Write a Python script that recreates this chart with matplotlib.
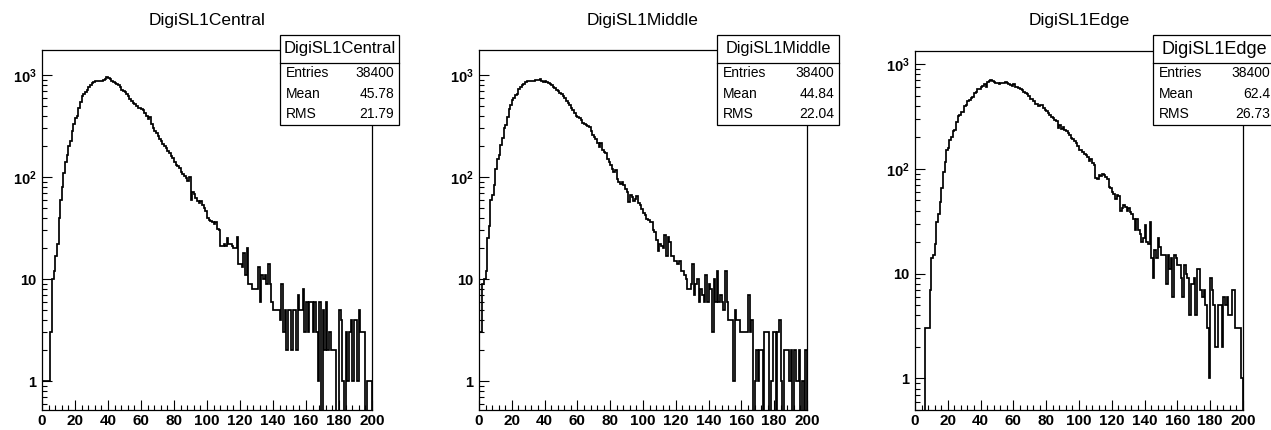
import numpy as np
import matplotlib
matplotlib.use("Agg")
import matplotlib.pyplot as plt
from matplotlib.patches import Rectangle
from matplotlib.lines import Line2D

plt.rcParams['font.family'] = ['Liberation Sans', 'DejaVu Sans']
plt.rcParams['mathtext.fontset'] = 'custom'
plt.rcParams['mathtext.rm'] = 'Liberation Sans:bold'
plt.rcParams['mathtext.it'] = 'Liberation Sans:bold'
plt.rcParams['mathtext.bf'] = 'Liberation Sans:bold'

# ---------------- data ----------------
bin_edges = list(range(0, 201))

names = ["DigiSL1Central", "DigiSL1Middle", "DigiSL1Edge"]
entries = ["38400", "38400", "38400"]
means = ["45.78", "44.84", "62.4"]
rms_values = ["21.79", "22.04", "26.73"]

counts_central = [
    1, 1, 1, 1, 1, 3, 10, 12, 17, 22,
    40, 60, 80, 110, 140, 165, 200, 225, 280, 330,
    380, 400, 470, 540, 620, 650, 680, 720, 770, 800,
    830, 860, 870, 880, 875, 880, 870, 885, 920, 950,
    940, 910, 880, 860, 840, 820, 800, 760, 720, 700,
    680, 650, 620, 580, 550, 530, 520, 500, 480, 470,
    460, 450, 420, 400, 370, 390, 330, 300, 285, 270,
    250, 235, 225, 210, 200, 193, 180, 170, 160, 154,
    140, 132, 128, 123, 112, 108, 102, 97, 92, 100,
    60, 72, 68, 62, 58, 56, 58, 53, 50, 46,
    40, 38, 37, 36, 35, 36, 31, 30, 21, 21,
    22, 21, 25, 22, 22, 21, 20, 20, 26, 14,
    14, 13, 18, 11, 20, 9, 9, 8, 8, 8,
    8, 13, 6, 11, 10, 11, 9, 14, 9, 6,
    5, 5, 5, 5, 4, 9, 3, 5, 2, 5,
    5, 2, 5, 5, 2, 7, 5, 5, 8, 3,
    6, 3, 6, 6, 3, 6, 3, 1, 6, 0,
    5, 2, 6, 2, 3, 2, 2, 2, 0, 0,
    5, 4, 1, 0, 3, 1, 3, 4, 1, 4,
    4, 1, 5, 3, 3, 3, 0, 1, 1, 1,
]

counts_middle = [
    3, 3, 9, 10, 12, 25, 33, 60, 66, 83,
    121, 150, 163, 205, 240, 300, 323, 390, 468, 504,
    565, 590, 634, 655, 735, 765, 790, 825, 845, 870,
    870, 875, 880, 870, 885, 891, 900, 905, 880, 863,
    870, 850, 840, 820, 800, 770, 740, 710, 690, 670,
    655, 620, 590, 560, 535, 510, 480, 450, 420, 400,
    390, 375, 362, 340, 330, 323, 315, 310, 280, 260,
    245, 238, 215, 196, 215, 183, 175, 170, 150, 140,
    130, 121, 111, 118, 96, 90, 86, 90, 83, 76,
    71, 57, 66, 63, 58, 61, 65, 55, 53, 49,
    44, 42, 39, 38, 36, 36, 30, 29, 24, 19,
    22, 21, 20, 27, 17, 26, 23, 17, 17, 15,
    15, 14, 15, 12, 12, 11, 10, 8, 8, 9,
    14, 7, 9, 10, 6, 8, 7, 6, 11, 6,
    9, 8, 3, 10, 6, 12, 6, 7, 6, 5,
    12, 6, 4, 4, 4, 1, 5, 4, 4, 3,
    3, 3, 3, 3, 7, 3, 4, 0, 1, 2,
    1, 2, 2, 0, 3, 3, 3, 0, 1, 3,
    3, 0, 3, 4, 1, 0, 2, 2, 2, 1,
    2, 0, 2, 1, 1, 2, 0, 1, 0, 2,
]

counts_edge = [
    0, 0, 0, 0, 0, 0, 3, 3, 3, 7,
    14, 15, 19, 31, 37, 48, 65, 94, 116, 150,
    160, 190, 200, 230, 235, 280, 320, 330, 350, 352,
    400, 410, 445, 455, 480, 490, 530, 545, 575, 585,
    610, 620, 640, 600, 670, 685, 700, 695, 670, 665,
    655, 650, 660, 655, 665, 668, 660, 650, 630, 625,
    640, 610, 600, 590, 580, 570, 545, 535, 520, 500,
    465, 460, 440, 420, 418, 395, 410, 405, 380, 365,
    360, 340, 330, 312, 305, 290, 285, 245, 260, 240,
    250, 235, 230, 220, 210, 198, 192, 185, 178, 165,
    152, 150, 146, 140, 135, 130, 120, 125, 113, 110,
    82, 80, 87, 85, 90, 88, 84, 80, 67, 65,
    60, 58, 52, 56, 55, 40, 42, 45, 43, 40,
    42, 39, 37, 33, 26, 33, 26, 24, 20, 22,
    29, 20, 19, 31, 14, 9, 17, 14, 22, 18,
    15, 15, 15, 8, 15, 11, 14, 6, 15, 14,
    12, 12, 9, 6, 12, 10, 9, 4, 8, 8,
    9, 4, 11, 11, 7, 6, 7, 5, 3, 1,
    9, 7, 5, 2, 2, 5, 5, 2, 6, 5,
    6, 4, 4, 7, 7, 3, 3, 3, 3, 1,
]

all_counts = [counts_central, counts_middle, counts_edge]

# ---------------- layout (pixels) ----------------
W, H = 1271, 430
fig = plt.figure(figsize=(W / 100, H / 100), dpi=100)

# left, top, right, bottom, ymin, ymax, box_left, box_right, box title size
panels = [
    (42, 50, 372, 410, 0.52, 1758, 280, 399, 12.0),
    (479, 50, 807, 410, 0.52, 1758, 717, 839, 11.7),
    (915, 51, 1243, 410, 0.50, 1334, 1153, 1275, 13.0),
]


def fx(x):
    return x / W


def fy(y):
    return 1 - y / H


for i, (l, t, r, b, ymin, ymax, bl, br, bts) in enumerate(panels):
    ax = fig.add_axes([fx(l), fy(b), (r - l) / W, (b - t) / H])
    ax.set_yscale('log')
    vals = np.asarray(all_counts[i], dtype=float)
    draw = np.where(vals > 0, vals, 1e-3)
    ax.stairs(draw, bin_edges, baseline=1e-3, color='black', lw=1.25)
    ax.set_xlim(0, 200)
    ax.set_ylim(ymin, ymax)

    ax.set_xticks(list(range(0, 201, 20)),
                  [str(v) for v in range(0, 201, 20)],
                  fontweight='bold', fontsize=11)
    ax.set_xticks([v for v in range(0, 201, 4) if v % 20], minor=True)
    ax.set_yticks([1, 10, 100, 1000],
                  ['1', '10', r'$\mathregular{10^{2}}$', r'$\mathregular{10^{3}}$'],
                  fontweight='bold', fontsize=10.5)
    minors = [k * 10 ** d for d in range(-1, 4) for k in range(2, 10)
              if ymin <= k * 10 ** d <= ymax]
    ax.set_yticks(minors, minor=True)
    ax.yaxis.set_minor_formatter(plt.NullFormatter())
    ax.tick_params(which='both', direction='in', top=False, right=False,
                   color='black')
    ax.tick_params(which='major', length=7, width=0.8)
    ax.tick_params(which='minor', length=3.5, width=0.8)
    ax.tick_params(axis='x', pad=3)
    ax.tick_params(axis='y', pad=4)
    for s in ax.spines.values():
        s.set_linewidth(0.9)
        s.set_color('black')

    # title
    fig.text(fx((l + r) / 2), fy(21), names[i], ha='center', va='center',
             fontsize=12.5)

    # stats box
    box_top, box_bot, sep = 35, 125, 63
    fig.add_artist(Rectangle((fx(bl), fy(box_bot)), (br - bl) / W,
                             (box_bot - box_top) / H,
                             transform=fig.transFigure, facecolor='white',
                             edgecolor='black', lw=0.9, zorder=5))
    fig.add_artist(Line2D([fx(bl), fx(br)], [fy(sep), fy(sep)],
                          transform=fig.transFigure, color='black', lw=0.9,
                          zorder=6))
    fig.text(fx((bl + br) / 2), fy(49), names[i], ha='center', va='center',
             fontsize=bts, zorder=7)
    rows = [("Entries", entries[i]), ("Mean", means[i]), ("RMS", rms_values[i])]
    for j, (lab, val) in enumerate(rows):
        yy = 73 + j * 20.7
        fig.text(fx(bl + 6), fy(yy), lab, ha='left', va='center',
                 fontsize=10, zorder=7)
        fig.text(fx(br - 5), fy(yy), val, ha='right', va='center',
                 fontsize=10, zorder=7)

fig.savefig('out.png', dpi=100)
